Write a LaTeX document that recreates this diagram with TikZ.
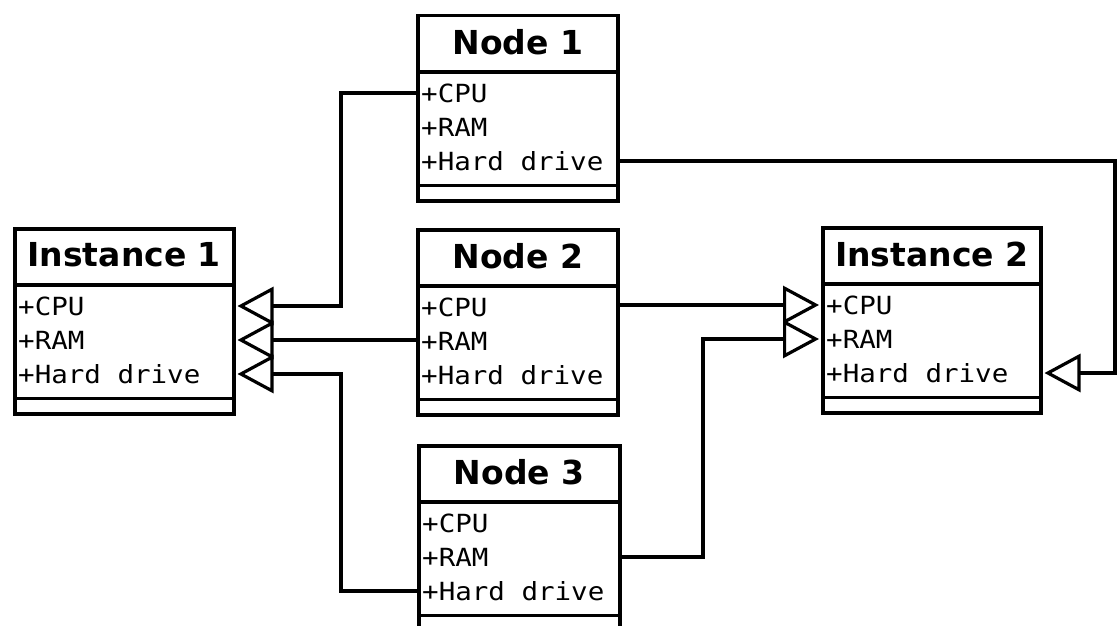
\documentclass[tikz,border=0pt]{standalone}
\usepackage{fontspec}
\usetikzlibrary{arrows.meta,calc}
\newfontfamily\classtitlefont{DejaVu Sans}
\newfontfamily\classattrfont{DejaVu Sans Mono}[FakeStretch=1.1]

\tikzset{
  classbox/.style={draw, line width=3.5pt, minimum height=185pt, inner sep=0pt,
    anchor=north west, fill=white},
  classtitle/.style={font=\classtitlefont\bfseries\fontsize{33}{33}\selectfont, inner sep=0pt},
  classattr/.style={font=\classattrfont\fontsize{25}{25}\selectfont, inner sep=0pt, anchor=west},
  rule/.style={line width=3.5pt},
  conn/.style={line width=3.2pt, -{Triangle[open, length=36pt, width=38pt]}},
}

% UML class box: name, title, left x, top y, width
\newcommand\umlclass[5]{%
  \node[classbox, minimum width=#5pt] (#1) at (#3,#4) {};
  \draw[rule] ([yshift=-58pt]#1.north west) -- ([yshift=-58pt]#1.north east);
  \draw[rule] ([yshift=17pt]#1.south west) -- ([yshift=17pt]#1.south east);
  \node[classtitle] (#1t) at ([yshift=-28pt]#1.north) {#2};
  \node[classattr] (#1cpu) at ([xshift=5pt,yshift=-79pt]#1.north west) {+CPU};
  \node[classattr] (#1ram) at ([xshift=5pt,yshift=-113pt]#1.north west) {+RAM};
  \node[classattr] (#1hd) at ([xshift=5pt,yshift=-147pt]#1.north west) {+Hard drive};
}

\begin{document}
\begin{tikzpicture}[x=1pt, y=-1pt]
  \useasboundingbox (0,0) rectangle (1117,626);
  \clip (0,0) rectangle (1117,626);
  \fill[white] (0,0) rectangle (1117,626);

  \umlclass{i1}{Instance 1}{13}{227}{219}
  \umlclass{n1}{Node 1}{416}{14}{200}
  \umlclass{n2}{Node 2}{416}{228}{200}
  \umlclass{n3}{Node 3}{417}{444}{201}
  \umlclass{i2}{Instance 2}{821}{226}{218}

  % vertical runs of the routed connectors
  \coordinate (j1) at (341,0);
  \coordinate (j2) at (703,0);
  \coordinate (j3) at (1115,0);

  % generalisations into Instance 1
  \draw[conn] (n1.west |- n1cpu) -| (j1 |- i1cpu) -- ($(i1.east |- i1cpu)+(2,0)$);
  \draw[conn] (n2.west |- i1ram) -- ($(i1.east |- i1ram)+(2,0)$);
  \draw[conn] (n3.west |- n3hd) -| (j1 |- i1hd) -- ($(i1.east |- i1hd)+(2,0)$);

  % generalisations into Instance 2
  \draw[conn] (n2.east |- i2cpu) -- ($(i2.west |- i2cpu)-(2,0)$);
  \draw[conn] (n3.east |- n3ram) -| (j2 |- i2ram) -- ($(i2.west |- i2ram)-(2,0)$);
  \draw[conn] (n1.east |- n1hd) -| (j3 |- i2hd) -- ($(i2.east |- i2hd)+(2,0)$);
\end{tikzpicture}
\end{document}
